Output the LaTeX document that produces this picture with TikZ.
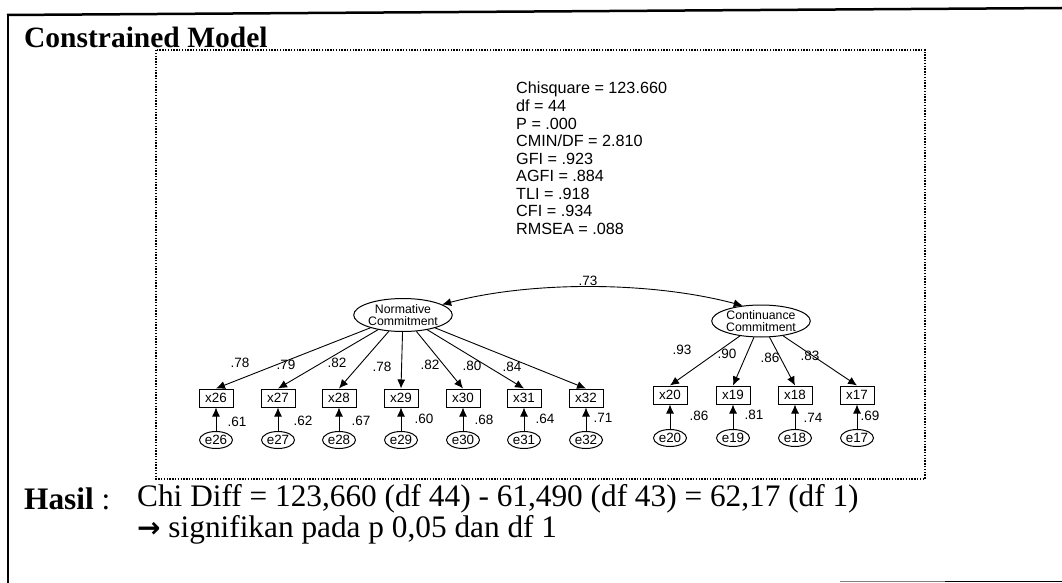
\documentclass[tikz,border=0pt]{standalone}
\usepackage{fontspec}
\setmainfont{Liberation Serif}
\newfontfamily\arial{Liberation Sans}
\newfontfamily\dejavu{DejaVu Sans}
\usetikzlibrary{arrows.meta,shapes.geometric}
\begin{document}
\begin{tikzpicture}[x=1pt,y=-1pt,
  lat/.style={draw, ellipse, inner sep=0pt, minimum width=87pt, minimum height=33pt, font=\arial\fontsize{12.3}{12}\selectfont, align=center, line width=1pt},
  obs/.style={draw, rectangle, minimum width=34pt, minimum height=18pt, inner sep=0pt, font=\arial\fontsize{13.4}{13}\selectfont, line width=1pt},
  err/.style={draw, ellipse, minimum width=33pt, minimum height=17pt, inner sep=0pt, font=\arial\fontsize{13.4}{13}\selectfont, line width=1pt},
  pth/.style={-{Latex[length=9pt,width=8pt]}, line width=0.9pt},
  cov/.style={{Latex[length=9pt,width=8pt]}-{Latex[length=9pt,width=8pt]}, line width=0.9pt},
  coef/.style={font=\arial\fontsize{13.5}{13.5}\selectfont, inner sep=0pt},
  stat/.style={font=\arial\fontsize{16.2}{16.2}\selectfont, inner sep=0pt, anchor=base west},
  dotbox/.style={line width=1.7pt, dash pattern=on 1.4pt off 1.4pt},
]
\useasboundingbox (0,0) rectangle (1062,583);
\fill[white] (0,0) rectangle (1062,583);
% outer frame
\draw[line width=2.5pt] (7,15) -- (1062,8);
\draw[line width=2pt] (8,14) -- (8,583);
\draw[line width=1.5pt, gray] (840,581.5) -- (945,581.5);
\draw[line width=1.8pt] (945,581.5) -- (1062,581.5);
% dotted box
\draw[dotbox] (156,50) rectangle (925,479);
% title
\node[anchor=base west, inner sep=0pt, font=\bfseries\fontsize{29.5}{29.5}\selectfont] (title) at (24,48) {Constrained Model};
% stats
\node[stat] (s1) at (516,94) {Chisquare = 123.660};
\node[stat] (s2) at (516,111.5) {df = 44};
\node[stat] (s3) at (516,129) {P = .000};
\node[stat] (s4) at (516,146.5) {CMIN/DF = 2.810};
\node[stat] (s5) at (516,164) {GFI = .923};
\node[stat] (s6) at (516,181.5) {AGFI = .884};
\node[stat] (s7) at (516,199) {TLI = .918};
\node[stat] (s8) at (516,216.5) {CFI = .934};
\node[stat] (s9) at (516,234) {RMSEA = .088};
% latent
\node[lat] (N) at (403,315) {Normative\\Commitment};
\node[lat, minimum width=88pt, minimum height=32pt] (C) at (761,321) {Continuance\\Commitment};
% observed
\foreach \n/\x in {26/216,27/278,28/339,29/401,30/463,31/524,32/586} {
  \node[obs] (x\n) at (\x,398) {x\n};
  \node[err] (e\n) at (\x,440) {e\n};
  \draw[pth] (N) -- (x\n.north);
  \draw[pth] (e\n) -- (x\n);
}
\foreach \n/\x in {20/670,19/733,18/795,17/857} {
  \node[obs] (x\n) at (\x,395) {x\n};
  \node[err] (e\n) at (\x,438) {e\n};
  \draw[pth] (C) -- (x\n.north);
  \draw[pth] (e\n) -- (x\n);
}
\draw[cov] (N.15) .. controls (530,281) and (650,281) .. (C.140);
\node[coef] (l73) at (588,281) {.73};
% loadings
\foreach \v/\x/\y in {.78/240/363,.79/286/365,.82/337/363,.78/382/367,.82/430/365,.80/472/366,.84/512/367,.93/682/350,.90/727/354,.86/770/358,.83/810/356} {
  \node[coef] at (\x,\y) {\v};
}
% squared multiple correlations
\foreach \v/\x/\y in {.61/237/422,.62/303/421,.67/361/421,.60/424/419,.68/484/420,.64/545/419,.71/603/418,.86/699/416,.81/754/415,.74/813/418,.69/870/416} {
  \node[coef] at (\x,\y) {\v};
}
% bottom text
\node[anchor=west, inner sep=0pt, font=\fontsize{31.3}{31.3}\selectfont] (hasil) at (24,499) {\textbf{Hasil} :};
\node[anchor=west, inner sep=0pt, font=\fontsize{31.3}{31.3}\selectfont] (res1) at (137,499) {Chi Diff = 123,660 (df 44) - 61,490 (df 43) = 62,17 (df 1)};
\node[anchor=west, inner sep=0pt, font=\fontsize{31.3}{31.3}\selectfont] (res2) at (137,530) {{\dejavu\bfseries\fontsize{28}{28}\selectfont →} signifikan pada p 0,05 dan df 1};
\end{tikzpicture}
\end{document}
